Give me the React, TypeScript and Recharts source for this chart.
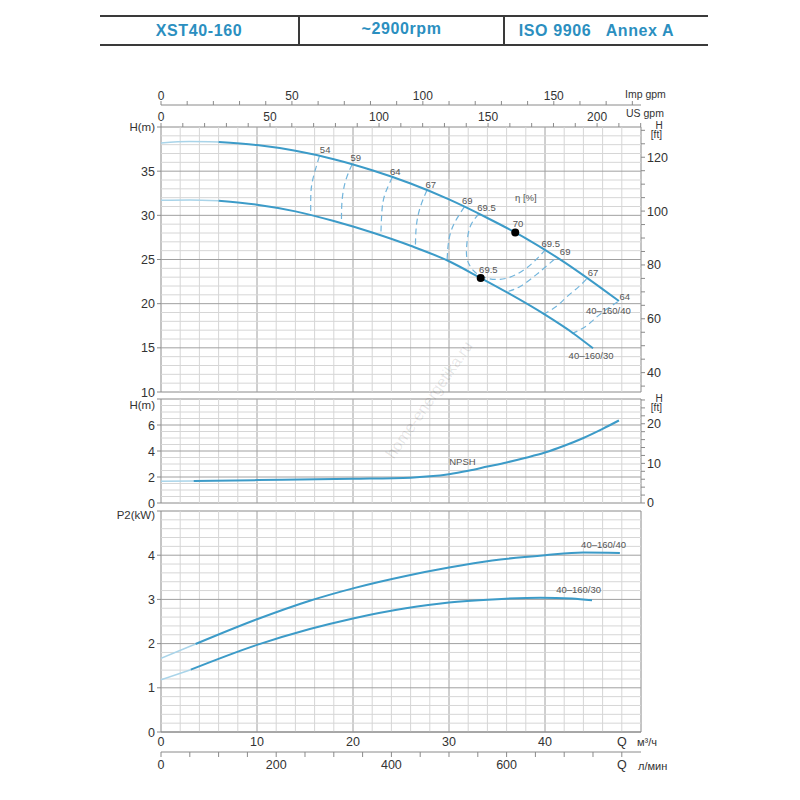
import React from "react";
import { LineChart, Line, XAxis, YAxis, ReferenceLine, ReferenceArea, ReferenceDot } from "recharts";

const FONT = "'Liberation Sans', Arial, Helvetica, sans-serif";
const BLUE = "#3c9bc8";
const FADED = "#a9d4e9";
const ISO = "#72b5dc";
const GRID_MINOR = "#d6d6d6";
const GRID_MAJOR = "#a0a0a0";
const FRAME = "#8a8a8a";
const TEXT = "#333";

// unit conversions from m3/h and m
const TO_US_GPM = 4.40287;
const TO_IMP_GPM = 3.66615;
const TO_LMIN = 16.6667;
const TO_FT = 3.28084;
const Q_MAX = 50;

const headerCells = ["XST40-160", "~2900rpm", "ISO 9906   Annex A"];
const headerWidths = [198, 205, 205];

// axis ticks
const qTicks = [0, 10, 20, 30, 40, 48];
const lminTicks = [0, 50, 100, 150, 200, 250, 300, 350, 400, 450, 500, 550, 600, 650, 700, 750, 800];
const lminLabels = [0, 200, 400, 600];
const usGpmTicks = [0, 10, 20, 30, 40, 50, 60, 70, 80, 90, 100, 110, 120, 130, 140, 150, 160, 170, 180, 190, 200, 210, 220];
const usGpmLabels = [0, 50, 100, 150, 200];
const impGpmTicks = [0, 10, 20, 30, 40, 50, 60, 70, 80, 90, 100, 110, 120, 130, 140, 150, 160, 170, 180];
const impGpmLabels = [0, 50, 100, 150];
const headTicks = [10, 15, 20, 25, 30, 35, 40];
const headFtTicks = [35, 40, 45, 50, 55, 60, 65, 70, 75, 80, 85, 90, 95, 100, 105, 110, 115, 120, 125, 130];
const headFtLabels = [40, 60, 80, 100, 120];
const npshTicks = [0, 2, 4, 6, 8];
const npshFtTicks = [0, 2, 4, 6, 8, 10, 12, 14, 16, 18, 20, 22, 24, 26];
const npshFtLabels = [0, 10, 20];
const powerTicks = [0, 1, 2, 3, 4, 5];

// H-Q curves (m3/h, m)
const head40Start = [
  { q: 0, h: 38.2 },
  { q: 3, h: 38.35 },
  { q: 6, h: 38.3 },
];
const head40 = [
  { q: 6, h: 38.3 },
  { q: 10, h: 37.95 },
  { q: 14, h: 37.3 },
  { q: 18, h: 36.35 },
  { q: 22, h: 35.1 },
  { q: 26, h: 33.6 },
  { q: 30, h: 31.8 },
  { q: 34, h: 29.7 },
  { q: 38, h: 27.4 },
  { q: 42, h: 24.7 },
  { q: 46, h: 21.65 },
  { q: 47.7, h: 20.3 },
];
const head30Start = [
  { q: 0, h: 31.7 },
  { q: 3, h: 31.75 },
  { q: 6, h: 31.65 },
];
const head30 = [
  { q: 6, h: 31.65 },
  { q: 10, h: 31.2 },
  { q: 14, h: 30.45 },
  { q: 18, h: 29.35 },
  { q: 22, h: 28.05 },
  { q: 26, h: 26.55 },
  { q: 30, h: 24.8 },
  { q: 33.3, h: 22.9 },
  { q: 36, h: 21.3 },
  { q: 40, h: 18.75 },
  { q: 43, h: 16.6 },
  { q: 45, h: 14.95 },
];

// iso-efficiency lines
const iso54 = [
  { q: 16.5, h: 36.7 },
  { q: 15.8, h: 34.0 },
  { q: 15.6, h: 32.1 },
  { q: 15.6, h: 30.0 },
];
const iso59 = [
  { q: 19.9, h: 35.76 },
  { q: 19.2, h: 33.8 },
  { q: 18.85, h: 31.5 },
  { q: 18.8, h: 29.1 },
];
const iso64 = [
  { q: 24.1, h: 34.3 },
  { q: 23.3, h: 32.3 },
  { q: 23.0, h: 30.3 },
  { q: 22.9, h: 27.7 },
];
const iso67 = [
  { q: 27.7, h: 32.83 },
  { q: 27.0, h: 30.9 },
  { q: 26.6, h: 28.8 },
  { q: 26.5, h: 26.35 },
];
const iso69 = [
  { q: 31.6, h: 30.95 },
  { q: 30.6, h: 29.2 },
  { q: 30.0, h: 27.3 },
  { q: 29.8, h: 24.9 },
];
const iso695 = [
  { q: 33.1, h: 30.15 },
  { q: 32.2, h: 28.7 },
  { q: 31.85, h: 26.6 },
  { q: 31.9, h: 25.0 },
  { q: 32.5, h: 23.8 },
  { q: 33.6, h: 23.0 },
  { q: 35.3, h: 22.75 },
  { q: 37.0, h: 23.3 },
  { q: 38.6, h: 24.5 },
  { q: 40.0, h: 26.05 },
];
const iso69Right = [
  { q: 36.2, h: 21.4 },
  { q: 37.5, h: 22.0 },
  { q: 39.0, h: 23.2 },
  { q: 40.2, h: 24.3 },
  { q: 41.2, h: 25.24 },
];
const iso67Right = [
  { q: 39.8, h: 18.8 },
  { q: 41.2, h: 19.7 },
  { q: 42.3, h: 20.8 },
  { q: 43.5, h: 21.9 },
  { q: 44.4, h: 22.87 },
];
const iso64Right = [
  { q: 42.8, h: 16.6 },
  { q: 44.2, h: 17.4 },
  { q: 45.4, h: 18.5 },
  { q: 46.6, h: 19.5 },
  { q: 47.7, h: 20.3 },
];
const isoLines = [iso54, iso59, iso64, iso67, iso69, iso695, iso69Right, iso67Right, iso64Right];

const bestPoints = [
  { q: 36.9, h: 28.05 },
  { q: 33.3, h: 22.9 },
];

const headLabels = [
  { q: 17.1, h: 37.4, text: "54" },
  { q: 20.3, h: 36.55, text: "59" },
  { q: 24.4, h: 35.0, text: "64" },
  { q: 28.1, h: 33.5, text: "67" },
  { q: 31.9, h: 31.7, text: "69" },
  { q: 33.9, h: 30.85, text: "69.5" },
  { q: 38.0, h: 32.0, text: "η [%]" },
  { q: 37.2, h: 29.1, text: "70" },
  { q: 40.6, h: 26.75, text: "69.5" },
  { q: 42.1, h: 25.85, text: "69" },
  { q: 45.0, h: 23.5, text: "67" },
  { q: 48.3, h: 20.85, text: "64" },
  { q: 46.6, h: 19.2, text: "40–160/40" },
  { q: 34.1, h: 23.8, text: "69.5" },
  { q: 44.8, h: 14.15, text: "40–160/30" },
];

// NPSH (m3/h, m)
const npshStart = [
  { q: 0, h: 1.68 },
  { q: 3.4, h: 1.7 },
];
const npsh = [
  { q: 3.4, h: 1.7 },
  { q: 10, h: 1.76 },
  { q: 20, h: 1.86 },
  { q: 26, h: 1.95 },
  { q: 28, h: 2.05 },
  { q: 30, h: 2.22 },
  { q: 32, h: 2.48 },
  { q: 34, h: 2.8 },
  { q: 36, h: 3.12 },
  { q: 38, h: 3.48 },
  { q: 40, h: 3.88 },
  { q: 42, h: 4.4 },
  { q: 44, h: 5.0 },
  { q: 46, h: 5.7 },
  { q: 47.7, h: 6.35 },
];

// P2 (m3/h, kW)
const power40Start = [
  { q: 0, p: 1.67 },
  { q: 3.6, p: 1.99 },
];
const power40 = [
  { q: 3.6, p: 1.99 },
  { q: 10, p: 2.55 },
  { q: 15.5, p: 2.97 },
  { q: 20, p: 3.25 },
  { q: 25.5, p: 3.53 },
  { q: 30, p: 3.72 },
  { q: 34.5, p: 3.88 },
  { q: 40, p: 4.0 },
  { q: 44, p: 4.06 },
  { q: 47.8, p: 4.05 },
];
const power30Start = [
  { q: 0, p: 1.18 },
  { q: 3.1, p: 1.41 },
];
const power30 = [
  { q: 3.1, p: 1.41 },
  { q: 10, p: 1.97 },
  { q: 15.5, p: 2.33 },
  { q: 20, p: 2.57 },
  { q: 25.5, p: 2.8 },
  { q: 30, p: 2.93 },
  { q: 34.5, p: 3.0 },
  { q: 39.5, p: 3.04 },
  { q: 42.8, p: 3.02 },
  { q: 44.9, p: 2.98 },
];
const powerLabels = [
  { q: 46.1, p: 4.24, text: "40–160/40" },
  { q: 43.5, p: 3.23, text: "40–160/30" },
];

const range = (a: number, b: number, s: number) => {
  const out: number[] = [];
  for (let v = a; v <= b + 1e-9; v += s) out.push(Math.round(v * 100) / 100);
  return out;
};

const tickStyle = { fontSize: 12.5, fill: TEXT, fontFamily: FONT };
const topTick = { fontSize: 12, fill: TEXT, fontFamily: FONT };

const vGrid = () =>
  range(2, 48, 2).map((q) => (
    <ReferenceLine key={"v" + q} x={q} stroke={q % 10 === 0 ? GRID_MAJOR : GRID_MINOR} strokeWidth={1} />
  ));

const hGrid = (from: number, to: number, step: number, major: number) =>
  range(from, to, step).map((v) => (
    <ReferenceLine
      key={"h" + v}
      y={v}
      stroke={Math.abs(v / major - Math.round(v / major)) < 1e-6 ? GRID_MAJOR : GRID_MINOR}
      strokeWidth={1}
    />
  ));

const onlyLabels = (labels: number[]) => (v: number) => (labels.includes(v) ? String(v) : "");

// left axis tick: the top tick carries the axis title instead of a number
const leftTick = (topValue: number, topText: string, shift: number) => (props: any) => {
  const { x, y, payload } = props;
  const isTop = payload.value === topValue;
  return (
    <text
      x={x}
      y={y}
      dy={isTop ? 4 + shift : 4.5}
      textAnchor="end"
      fontSize={isTop ? 11.5 : 12.5}
      fill={TEXT}
      fontFamily={FONT}
    >
      {isTop ? topText : payload.value}
    </text>
  );
};

// invisible anchors so the secondary unit axes get drawn
const hiddenLine = (props: any) => (
  <Line {...props} stroke="none" dot={false} activeDot={false} legendType="none" isAnimationActive={false} />
);

const abs = (left: number, top: number, extra: React.CSSProperties = {}): React.CSSProperties => ({
  position: "absolute",
  left,
  top,
  fontFamily: FONT,
  color: TEXT,
  whiteSpace: "pre",
  ...extra,
});

const Header = () => (
  <div
    style={{
      position: "absolute",
      left: 100,
      top: 15,
      width: 608,
      height: 27,
      borderTop: "2px solid #3a3a3a",
      borderBottom: "2px solid #3a3a3a",
      display: "flex",
      fontFamily: FONT,
    }}
  >
    {headerCells.map((c, i) => (
      <div
        key={c}
        style={{
          boxSizing: "border-box",
          flex: "none",
          width: headerWidths[i],
          borderLeft: i === 0 ? "none" : "2px solid #3a3a3a",
          display: "flex",
          alignItems: "center",
          justifyContent: "center",
          color: "#2b8fc0",
          fontWeight: "bold",
          fontSize: 16,
          letterSpacing: 0.6,
          whiteSpace: "pre",
          paddingBottom: i === 1 ? 3 : 0,
          paddingRight: i === 2 ? 20 : 0,
        }}
      >
        {c}
      </div>
    ))}
  </div>
);

const HeadChart = () => (
  <LineChart width={800} height={330} margin={{ top: 13, right: 119, bottom: 8, left: 121 }}>
    <XAxis dataKey="q" type="number" domain={[0, Q_MAX]} hide allowDataOverflow />
    <XAxis
      xAxisId="b_imp"
      dataKey="q"
      orientation="top"
      type="number"
      domain={[0, Q_MAX * TO_IMP_GPM]}
      ticks={impGpmTicks}
      tickFormatter={onlyLabels(impGpmLabels)}
      interval={0}
      height={22}
      tickSize={4}
      tickMargin={1}
      axisLine={{ stroke: FRAME }}
      tickLine={{ stroke: FRAME }}
      tick={topTick}
      allowDataOverflow
    />
    <XAxis
      xAxisId="a_us"
      dataKey="q"
      orientation="top"
      type="number"
      domain={[0, Q_MAX * TO_US_GPM]}
      ticks={usGpmTicks}
      tickFormatter={onlyLabels(usGpmLabels)}
      interval={0}
      height={22}
      tickSize={4}
      tickMargin={2}
      axisLine={false}
      tickLine={{ stroke: FRAME }}
      tick={topTick}
      allowDataOverflow
    />
    <YAxis
      type="number"
      domain={[10, 40]}
      ticks={headTicks}
      interval={0}
      width={40}
      tickSize={4}
      tickMargin={2}
      axisLine={false}
      tickLine={{ stroke: FRAME }}
      tick={leftTick(40, "H(m)", 0)}
      allowDataOverflow
    />
    <YAxis
      yAxisId="ft"
      orientation="right"
      type="number"
      domain={[10 * TO_FT, 40 * TO_FT]}
      ticks={headFtTicks}
      tickFormatter={onlyLabels(headFtLabels)}
      interval={0}
      width={40}
      tickSize={4}
      tickMargin={2}
      axisLine={false}
      tickLine={{ stroke: FRAME }}
      tick={tickStyle}
      allowDataOverflow
    />
    {hiddenLine({ xAxisId: "b_imp", data: [{ q: 0, h: 10 }, { q: Q_MAX * TO_IMP_GPM, h: 10 }], dataKey: "h" })}
    {hiddenLine({ xAxisId: "a_us", data: [{ q: 0, h: 10 }, { q: Q_MAX * TO_US_GPM, h: 10 }], dataKey: "h" })}
    {hiddenLine({ yAxisId: "ft", data: [{ q: 0, h: 10 * TO_FT }, { q: Q_MAX, h: 40 * TO_FT }], dataKey: "h" })}
    {vGrid()}
    {hGrid(11, 39, 1, 5)}
    <ReferenceArea x1={0} x2={Q_MAX} y1={10} y2={40} fill="none" stroke={FRAME} strokeWidth={1} />
    {isoLines.map((d, i) => (
      <Line
        key={"iso" + i}
        data={d}
        dataKey="h"
        type="natural"
        stroke={ISO}
        strokeWidth={1.2}
        strokeDasharray="6 4"
        dot={false}
        isAnimationActive={false}
      />
    ))}
    <Line data={head40Start} dataKey="h" type="monotone" stroke={FADED} strokeWidth={1.5} dot={false} isAnimationActive={false} />
    <Line data={head40} dataKey="h" type="monotone" stroke={BLUE} strokeWidth={2} dot={false} isAnimationActive={false} />
    <Line data={head30Start} dataKey="h" type="monotone" stroke={FADED} strokeWidth={1.5} dot={false} isAnimationActive={false} />
    <Line data={head30} dataKey="h" type="monotone" stroke={BLUE} strokeWidth={2} dot={false} isAnimationActive={false} />
    {bestPoints.map((p, i) => (
      <ReferenceDot key={"bp" + i} x={p.q} y={p.h} r={4} fill="#000" stroke="none" />
    ))}
    {headLabels.map((l, i) => (
      <ReferenceDot
        key={"hl" + i}
        x={l.q}
        y={l.h}
        r={0}
        fill="none"
        stroke="none"
        label={{ value: l.text, position: "center", fontSize: 9.5, fill: "#555", fontFamily: FONT }}
      />
    ))}
  </LineChart>
);

const NpshChart = () => (
  <LineChart width={800} height={125} margin={{ top: 13, right: 119, bottom: 8, left: 121 }}>
    <XAxis dataKey="q" type="number" domain={[0, Q_MAX]} hide allowDataOverflow />
    <YAxis
      type="number"
      domain={[0, 8]}
      ticks={npshTicks}
      interval={0}
      width={40}
      tickSize={4}
      tickMargin={2}
      axisLine={false}
      tickLine={{ stroke: FRAME }}
      tick={leftTick(8, "H(m)", 6)}
      allowDataOverflow
    />
    <YAxis
      yAxisId="ft"
      orientation="right"
      type="number"
      domain={[0, 8 * TO_FT]}
      ticks={npshFtTicks}
      tickFormatter={onlyLabels(npshFtLabels)}
      interval={0}
      width={40}
      tickSize={4}
      tickMargin={2}
      axisLine={false}
      tickLine={{ stroke: FRAME }}
      tick={tickStyle}
      allowDataOverflow
    />
    {hiddenLine({ yAxisId: "ft", data: [{ q: 0, h: 0 }, { q: Q_MAX, h: 8 * TO_FT }], dataKey: "h" })}
    {vGrid()}
    {hGrid(0.5, 7.5, 0.5, 2)}
    <ReferenceArea x1={0} x2={Q_MAX} y1={0} y2={8} fill="none" stroke={FRAME} strokeWidth={1} />
    <Line data={npshStart} dataKey="h" type="monotone" stroke={FADED} strokeWidth={1.5} dot={false} isAnimationActive={false} />
    <Line data={npsh} dataKey="h" type="monotone" stroke={BLUE} strokeWidth={2} dot={false} isAnimationActive={false} />
    <ReferenceDot
      x={31.4}
      y={3.2}
      r={0}
      fill="none"
      stroke="none"
      label={{ value: "NPSH", position: "center", fontSize: 9.5, fill: "#555", fontFamily: FONT }}
    />
  </LineChart>
);

const PowerChart = () => (
  <LineChart width={800} height={288} margin={{ top: 13, right: 159, bottom: 4, left: 121 }}>
    <XAxis
      dataKey="q"
      type="number"
      domain={[0, Q_MAX]}
      ticks={qTicks}
      tickFormatter={(v: number) => (v === 48 ? "Q" : String(v))}
      interval={0}
      height={20}
      tickSize={0}
      tickMargin={5}
      axisLine={{ stroke: FRAME }}
      tickLine={false}
      tick={tickStyle}
      allowDataOverflow
    />
    <XAxis
      xAxisId="lmin"
      dataKey="q"
      type="number"
      domain={[0, Q_MAX * TO_LMIN]}
      ticks={lminTicks}
      tickFormatter={(v: number) => (v === 800 ? "Q" : lminLabels.includes(v) ? String(v) : "")}
      interval={0}
      height={30}
      tickSize={5}
      tickMargin={3}
      axisLine={{ stroke: FRAME }}
      tickLine={{ stroke: FRAME }}
      tick={tickStyle}
      allowDataOverflow
    />
    <YAxis
      type="number"
      domain={[0, 5]}
      ticks={powerTicks}
      interval={0}
      width={40}
      tickSize={4}
      tickMargin={2}
      axisLine={false}
      tickLine={{ stroke: FRAME }}
      tick={leftTick(5, "P2(kW)", 4)}
      allowDataOverflow
    />
    {hiddenLine({ xAxisId: "lmin", data: [{ q: 0, p: 0 }, { q: Q_MAX * TO_LMIN, p: 0 }], dataKey: "p" })}
    {vGrid()}
    {hGrid(0.2, 4.8, 0.2, 1)}
    <ReferenceArea x1={0} x2={Q_MAX} y1={0} y2={5} fill="none" stroke={FRAME} strokeWidth={1} />
    <Line data={power40Start} dataKey="p" type="monotone" stroke={FADED} strokeWidth={1.5} dot={false} isAnimationActive={false} />
    <Line data={power40} dataKey="p" type="monotone" stroke={BLUE} strokeWidth={2} dot={false} isAnimationActive={false} />
    <Line data={power30Start} dataKey="p" type="monotone" stroke={FADED} strokeWidth={1.5} dot={false} isAnimationActive={false} />
    <Line data={power30} dataKey="p" type="monotone" stroke={BLUE} strokeWidth={2} dot={false} isAnimationActive={false} />
    {powerLabels.map((l, i) => (
      <ReferenceDot
        key={"pl" + i}
        x={l.q}
        y={l.p}
        r={0}
        fill="none"
        stroke="none"
        label={{ value: l.text, position: "center", fontSize: 9.5, fill: "#555", fontFamily: FONT }}
      />
    ))}
  </LineChart>
);

export default function App() {
  return (
    <div style={{ position: "absolute", left: 0, top: 0, width: 800, height: 800, background: "#fff", overflow: "hidden" }}>
      <Header />
      <div style={{ position: "absolute", left: 0, top: 70 }}>
        <HeadChart />
      </div>
      <div style={{ position: "absolute", left: 0, top: 386 }}>
        <NpshChart />
      </div>
      <div style={{ position: "absolute", left: 0, top: 498 }}>
        <PowerChart />
      </div>
      <div style={abs(625, 88, { fontSize: 10.5 })}>Imp gpm</div>
      <div style={abs(626, 107, { fontSize: 10.5 })}>US gpm</div>
      <div style={abs(650, 121, { fontSize: 10, lineHeight: "9px", textAlign: "center" })}>{"  H\n[ft]"}</div>
      <div style={abs(650, 394, { fontSize: 10, lineHeight: "9px", textAlign: "center" })}>{"  H\n[ft]"}</div>
      <div style={abs(637, 736, { fontSize: 11 })}>м³/ч</div>
      <div style={abs(638, 760, { fontSize: 11 })}>л/мин</div>
      <div
        style={abs(360, 391, {
          fontSize: 16,
          color: "rgba(0,0,0,0.1)",
          transform: "rotate(-55deg)",
          transformOrigin: "center",
        })}
      >
        home-energetika.ru
      </div>
    </div>
  );
}
